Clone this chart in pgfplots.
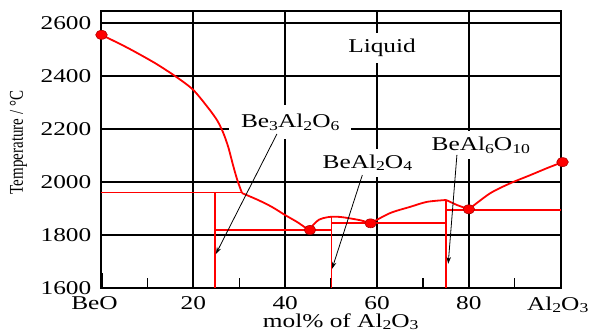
\documentclass[border=0pt]{standalone}
\usepackage{graphicx}
\usepackage{fontspec}
\setmainfont{Liberation Serif}[FakeStretch=1.3]
\usepackage{pgfplots}
\pgfplotsset{compat=1.18}
\usetikzlibrary{arrows.meta}
\newcommand{\fs}{\fontsize{19.5bp}{23bp}\selectfont}
\newcommand{\sub}[1]{\raisebox{-2.5bp}{\fontsize{13.6bp}{14bp}\selectfont #1}}
\begin{document}
\begin{tikzpicture}
\begin{axis}[
 at={(0,0)}, anchor=south west,
 scale only axis, width=459.2bp, height=277bp,
 xmin=0, xmax=100, ymin=1600, ymax=2645,
 xtick={0,20,40,60,80,100},
 xticklabels={\hspace*{-14bp}BeO,20,40,60,80,\hspace*{-6bp}Al\sub{2}O\sub{3}},
 minor xtick={10,30,50,70,90},
 ytick={1600,1800,2000,2200,2400,2600},
 yticklabels={1600,1800,2000,2200,2400,2600},
 xtick pos=bottom, ytick pos=both, yticklabel pos=left,
 tick align=inside,
 major tick length=15bp, minor tick length=10bp,
 major tick style={black, line width=2.2bp},
 minor tick style={black, line width=1.3bp},
 grid=major, major grid style={black, line width=2bp},
 axis line style={black, line width=2bp},
 ticklabel style={font=\fs, inner sep=0pt},
 xticklabel style={yshift=-8.5bp},
 yticklabel style={xshift=-10bp},
 xlabel={mol\% of Al\sub{2}O\sub{3}},
 xlabel style={font=\fs, inner sep=0pt, at={(axis description cs:0.521,0)}, anchor=north, yshift=-25.5bp},
 ylabel={\scalebox{0.592}[1]{Temperature / °C}},
 ylabel style={font=\fs, inner sep=0pt, at={(axis description cs:-0.181,0.525)}, anchor=center},
 clip=false,
]
% liquidus, BeO side
\addplot[red, line width=1.8bp, smooth, tension=0.45] coordinates {
 (0,2555) (5.8,2505) (11.7,2448) (16.4,2395) (20,2347) (23.3,2278) (25.2,2232)
 (26.5,2186) (27.6,2132) (28.7,2060) (29.6,2006) (30.6,1958)};
\addplot[red, line width=1.8bp, smooth, tension=0.45] coordinates {
 (30.6,1958) (34.1,1932) (37.1,1906) (40,1875) (42.6,1849) (44.8,1823) (45.4,1819)};
\addplot[red, line width=1.8bp, smooth, tension=0.5] coordinates {
 (45.4,1819) (46.2,1840) (47.4,1858) (48.9,1866) (50.3,1869) (52,1868) (54,1863) (56.5,1855) (58.6,1844)};
\addplot[red, line width=1.8bp, smooth, tension=0.5] coordinates {
 (58.6,1844) (62.9,1883) (67.2,1906) (70.9,1925) (75.05,1932)};
\addplot[red, line width=1.8bp] coordinates {(75.05,1932) (77.4,1913) (80,1897)};
\addplot[red, line width=1.8bp, smooth, tension=0.45] coordinates {
 (80,1897) (84.6,1957) (89,1995) (93.4,2026) (97,2052) (100.4,2075)};
% invariant lines
\addplot[red, line width=1.8bp] coordinates {(0,1960) (30.6,1960)};
\addplot[red, line width=1.8bp] coordinates {(24.8,1960) (24.8,1600)};
\addplot[red, line width=1.8bp] coordinates {(24.8,1819) (50.1,1819)};
\addplot[red, line width=1.8bp] coordinates {(50.1,1869) (50.1,1600)};
\addplot[red, line width=1.8bp] coordinates {(50.1,1845) (75.05,1845)};
\addplot[red, line width=1.8bp] coordinates {(75.05,1932) (75.05,1600)};
\addplot[red, line width=1.8bp] coordinates {(75.05,1895) (100,1895)};
% points
\addplot[only marks, mark=*, mark size=4.5pt, mark options={fill=red, draw=red!70!black, line width=0.6bp, xscale=1.3}]
 coordinates {(0,2555) (45.4,1819) (58.6,1844) (80,1897) (100.4,2075)};
% labels
\node[fill=white, font=\fs, inner xsep=6bp, inner ysep=6bp] at (axis cs:61.1,2506) {Liquid};
\node[fill=white, font=\fs, inner xsep=12bp, inner ysep=9bp] at (axis cs:41.1,2226) {Be\sub{3}Al\sub{2}O\sub{6}};
\node[fill=white, font=\fs, inner xsep=6bp, inner ysep=6bp] at (axis cs:82.6,2138) {BeAl\sub{6}O\sub{10}};
\node[fill=white, font=\fs, inner xsep=6bp, inner ysep=6bp] at (axis cs:57.9,2072) {BeAl\sub{2}O\sub{4}};
% arrows
\addplot[black, line width=0.8bp, -{Stealth[length=7bp,width=4.5bp]}] coordinates {(38.2,2181) (24.9,1728)};
\addplot[black, line width=0.8bp, -{Stealth[length=7bp,width=4.5bp]}] coordinates {(56.8,2026) (50.2,1672)};
\addplot[black, line width=0.8bp, -{Stealth[length=7bp,width=4.5bp]}] coordinates {(77.4,2102) (75.5,1691)};
\end{axis}
\pgfresetboundingbox
\path[use as bounding box] ([xshift=-101.5bp,yshift=-44bp]current axis.south west) rectangle ([xshift=28.3bp,yshift=11bp]current axis.north east);
\end{tikzpicture}
\end{document}
